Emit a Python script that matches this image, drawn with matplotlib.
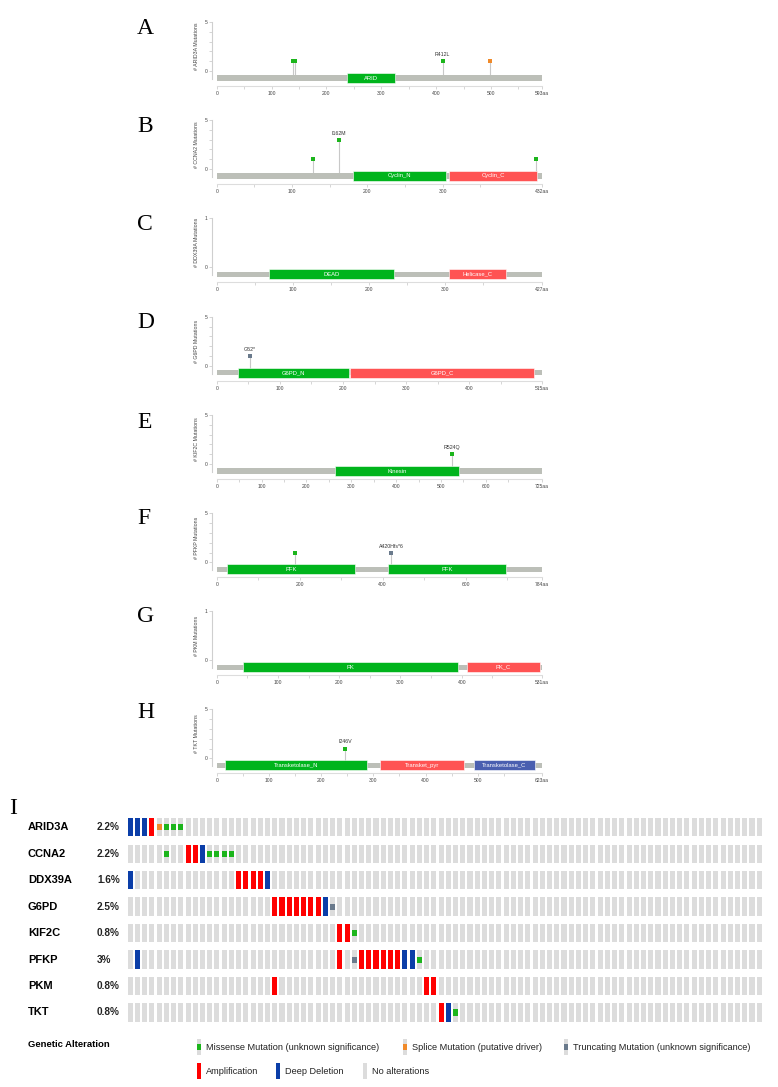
import matplotlib
matplotlib.use("Agg")
import matplotlib.pyplot as plt
from matplotlib.patches import Rectangle

plt.rcParams['font.family'] = ['Liberation Sans', 'DejaVu Sans']

# ---- lollipop data (panels A-H) ----
prot_names = ["ARID3A", "CCNA2", "DDX39A", "G6PD", "KIF2C", "PFKP", "PKM", "TKT"]
prot_lengths = [593, 432, 427, 515, 725, 784, 531, 623]
prot_ymax = [5, 5, 1, 5, 5, 5, 1, 5]
panel_letters = ["A", "B", "C", "D", "E", "F", "G", "H"]

dom_starts = [[238], [181, 309], [69, 305], [34, 211], [263], [25, 412], [43, 408], [16, 313, 492]]
dom_ends = [[325], [305, 425], [233, 380], [503], [541], [333, 697], [394, 527], [287, 474, 610]]
dom_ends[3] = [209, 503]
dom_names = [["ARID"], ["Cyclin_N", "Cyclin_C"], ["DEAD", "Helicase_C"], ["G6PD_N", "G6PD_C"],
             ["Kinesin"], ["PFK", "PFK"], ["PK", "PK_C"],
             ["Transketolase_N", "Transket_pyr", "Transketolase_C"]]

mut_pos = [[140, 142, 412, 498], [128, 162, 424], [], [52], [524], [188, 420], [], [246]]
mut_count = [[1, 1, 1, 1], [1, 3, 1], [], [1], [1], [1, 1], [], [1]]
mut_kind = [["mis", "mis", "mis", "splice"], ["mis", "mis", "mis"], [], ["trunc"], ["mis"],
            ["mis", "trunc"], [], ["mis"]]
mut_label = [["", "", "R412L", ""], ["", "I162M", ""], [], ["G52*"], ["R524Q"],
             ["", "A420Hfs*6"], [], ["I246V"]]

# ---- oncoprint data (panel I) ----
genes = ["ARID3A", "CCNA2", "DDX39A", "G6PD", "KIF2C", "PFKP", "PKM", "TKT"]
pcts = ["2.2%", "2.2%", "1.6%", "2.5%", "0.8%", "3%", "0.8%", "0.8%"]
n_cols = 88
amp_cols = [[3], [8, 9], [15, 16, 17, 18], [20, 21, 22, 23, 24, 25, 26], [29, 30],
            [29, 32, 33, 34, 35, 36, 37], [20, 41, 42], [43]]
del_cols = [[0, 1, 2], [10], [0, 19], [27], [], [1, 38, 39], [], [44]]
mis_cols = [[5, 6, 7], [5, 11, 12, 13, 14], [], [], [31], [40], [], [45]]
splice_cols = [[4], [], [], [], [], [], [], []]
trunc_cols = [[], [], [], [28], [], [31], [], []]

# colours
dom_palette = ["#00b41c", "#ff5353", "#4a5fb0"]
bb_gray = "#bcbfb8"
mut_colors = {"mis": "#1cb51c", "splice": "#f08a2a", "trunc": "#6a7a8c"}
c_none = "#dcdcdc"
c_amp = "#ff0000"
c_del = "#0b3ea8"

W, H = 778, 1087
fig = plt.figure(figsize=(W / 100, H / 100), dpi=100)


def fig_rect(l, t, r, b):
    return [l / W, 1 - b / H, (r - l) / W, (b - t) / H]


# overlay in pixel coords for labels and legend
lay = fig.add_axes([0, 0, 1, 1], zorder=-1)
lay.set_xlim(0, W)
lay.set_ylim(H, 0)
lay.axis("off")

# ---- lollipop panels ----
zero_px = [71, 169, 267.3, 365.7, 464, 562.3, 660.3, 758.3]
letter_px = [29, 127, 225, 323, 422, 518, 617, 713]
x0_px, xL_px = 216.7, 542.0
axl_px, axr_px = 212.3, 544.0

for i, name in enumerate(prot_names):
    L = prot_lengths[i]
    ymax = prot_ymax[i]
    z = zero_px[i]
    top, bot = z - 49, z + 15
    ax = fig.add_axes(fig_rect(axl_px, top, axr_px, bot))
    aa_px = (xL_px - x0_px) / L
    ax.set_xlim(-(x0_px - axl_px) / aa_px, L + (axr_px - xL_px) / aa_px)
    upx = 49 / ymax  # pixels per count
    ax.set_ylim(-15 / upx, ymax)

    bar_y = -7 / upx
    ax.barh(bar_y, L, left=0, height=5.3 / upx, color=bb_gray, zorder=2)
    uniq = []
    for s, e, dn in zip(dom_starts[i], dom_ends[i], dom_names[i]):
        if dn not in uniq:
            uniq.append(dn)
        col = dom_palette[uniq.index(dn) % 3]
        ax.barh(bar_y, e - s, left=s, height=10 / upx, color=col, zorder=3,
                edgecolor="white", linewidth=0.4)
        ax.text((s + e) / 2, bar_y, dn, color="white", fontsize=4.2,
                ha="center", va="center", zorder=4)

    for p, c, k, lb in zip(mut_pos[i], mut_count[i], mut_kind[i], mut_label[i]):
        ax.vlines(p, bar_y + 2.6 / upx, c, color="#c8c8c8", linewidth=0.8, zorder=1)
        ax.plot([p], [c], marker="s", markersize=2.3, color=mut_colors[k],
                markeredgewidth=0, zorder=5)
        if lb:
            ax.text(p, c + 4 / upx, lb, fontsize=3.8, color="#333333",
                    ha="center", va="bottom")

    for sp in ["top", "right"]:
        ax.spines[sp].set_visible(False)
    ax.spines["left"].set_color("#cfcfcf")
    ax.spines["bottom"].set_color("#dddddd")
    ax.spines["left"].set_linewidth(0.8)
    ax.spines["bottom"].set_linewidth(0.8)
    ax.spines["left"].set_bounds(-8 / upx, ymax)
    ax.spines["bottom"].set_bounds(0, L)

    step = 200 if L > 750 else 100
    majors = list(range(0, L - step // 3, step)) + [L]
    ax.set_xticks(majors)
    ax.set_xticklabels([str(v) for v in majors[:-1]] + [f"{L}aa"])
    ax.set_xticks([v + step / 2 for v in range(0, L - step // 2, step)], minor=True)
    ax.set_yticks([0, ymax])
    ax.set_yticklabels(["0", str(ymax)])
    if ymax > 1:
        ax.set_yticks(list(range(1, ymax)), minor=True)
    ax.tick_params(axis="both", which="both", labelsize=3.6, colors="#cfcfcf",
                   labelcolor="#444444", length=2.2, width=0.6, pad=1.5)

    ax.text(-0.049, ymax / 2, f"# {name} Mutations", transform=ax.get_yaxis_transform(),
            rotation=90, fontsize=3.8, color="#444444", ha="center", va="center")

    lay.text(137, letter_px[i], panel_letters[i], family="Liberation Serif",
             fontsize=17, ha="left", va="center")

# ---- oncoprint ----
lay.text(9, 808, "I", family="Liberation Serif", fontsize=17, ha="left", va="center")
pitch = 7.23
c0 = 130.2
row_c0, row_pitch = 827.2, 26.47
op = fig.add_axes(fig_rect(c0 - pitch / 2, row_c0 - row_pitch / 2,
                           c0 + (n_cols - 0.5) * pitch, row_c0 + 7.5 * row_pitch))
op.set_xlim(-0.5, n_cols - 0.5)
op.set_ylim(len(genes) - 0.5, -0.5)
op.axis("off")
bw, bh = 0.7, 0.69
for r, g in enumerate(genes):
    op.bar(range(n_cols), bh, bottom=r - bh / 2, width=bw, color=c_none, zorder=1)
    if amp_cols[r]:
        op.bar(amp_cols[r], bh, bottom=r - bh / 2, width=bw, color=c_amp, zorder=2)
    if del_cols[r]:
        op.bar(del_cols[r], bh, bottom=r - bh / 2, width=bw, color=c_del, zorder=2)
    for cols, col in [(mis_cols[r], mut_colors["mis"]), (splice_cols[r], mut_colors["splice"]),
                      (trunc_cols[r], mut_colors["trunc"])]:
        if cols:
            op.bar(cols, bh / 3, bottom=r - bh / 6, width=bw, color=col, zorder=3)
    yc = row_c0 + r * row_pitch
    lay.text(28, yc, g, fontsize=8, fontweight="bold", ha="left", va="center")
    lay.text(97, yc, pcts[r], fontsize=7.2, fontweight="bold", color="#222222",
             ha="left", va="center")

# legend
lay.text(28, 1044.5, "Genetic Alteration", fontsize=6.8, fontweight="bold",
         ha="left", va="center")
leg_items = [
    (197.3, 1047, "mis", "Missense Mutation (unknown significance)"),
    (402.7, 1047, "splice", "Splice Mutation (putative driver)"),
    (563.7, 1047, "trunc", "Truncating Mutation (unknown significance)"),
    (197.3, 1071, "amp", "Amplification"),
    (276.3, 1071, "del", "Deep Deletion"),
    (362.7, 1071, "none", "No alterations"),
]
for lx, ly, kind, txt in leg_items:
    full = {"amp": c_amp, "del": c_del}.get(kind, c_none)
    lay.add_patch(Rectangle((lx, ly - 8), 4.2, 16, color=full, lw=0))
    if kind in mut_colors:
        lay.add_patch(Rectangle((lx, ly - 2.7), 4.2, 5.4, color=mut_colors[kind], lw=0))
    lay.text(lx + 9, ly, txt, fontsize=6.6, color="#222222", ha="left", va="center")

fig.savefig("out.png", dpi=100)
